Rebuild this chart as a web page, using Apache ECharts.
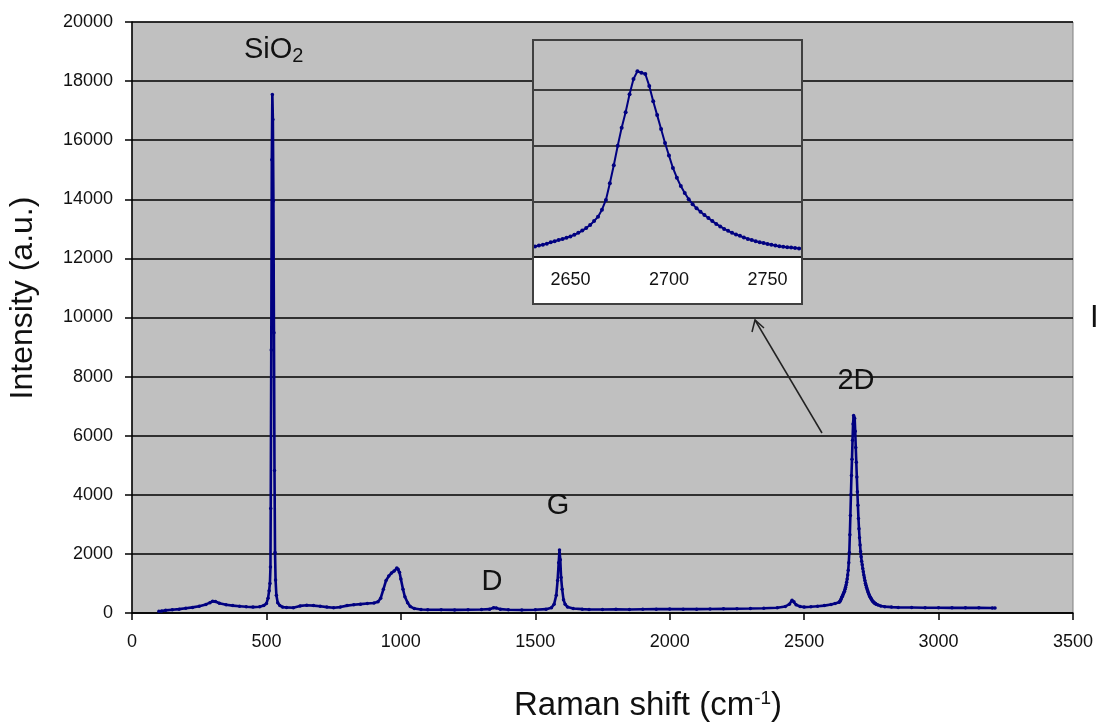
<!DOCTYPE html>
<html>
<head>
<meta charset="utf-8">
<script src="https://cdn.jsdelivr.net/npm/echarts@6/dist/echarts.min.js"></script>
<style>
html,body{margin:0;padding:0;background:#fff;}
#c{width:1099px;height:722px;}
</style>
</head>
<body>
<div id="c"></div>
<script>
// ---- data ----
const ramanShift = [
 100,110,125,150,175,200,225,250,275,290,300,310,325,350,375,400,425,450,475,490,
 500,506,510,513,515,516,518,520,522,524,526,528,530,532,534,537,542,550,560,575,
 600,625,650,675,700,725,750,775,800,825,850,875,900,915,925,935,945,955,965,975,
 985,990,995,1000,1008,1015,1025,1035,1050,1075,1100,1150,1200,1250,1300,1330,1345,1355,1370,1400,
 1450,1500,1540,1560,1570,1578,1583,1587,1590,1593,1596,1600,1605,1611,1620,1641,1675,1700,1750,1800,
 1850,1900,1950,2000,2050,2100,2150,2200,2250,2300,2350,2400,2430,2445,2455,2462,2470,2485,2500,2525,
 2550,2575,2600,2615,
 2630,2632,2634,2636,2638,2640,2642,2644,2646,2648,2650,2652,2654,2656,2658,2660,2662,2664,2666,2668,
 2670,2672,2674,2676,2678,2680,2682,2684,2686,2688,2690,2692,2694,2696,2698,2700,2702,2704,2706,2708,
 2710,2712,2714,2716,2718,2720,2722,2724,2726,2728,2730,2732,2734,2736,2738,2740,2742,2744,2746,2748,
 2750,2752,2754,2756,2758,2760,2762,2764,2766,2768,
 2775,2785,2800,2825,2850,2900,2950,3000,3050,3100,3150,3200,3210
];
const intensity = [
 60,70,90,110,130,160,190,230,290,350,400,390,330,280,250,230,210,200,210,250,
 320,500,750,1000,1560,3540,8900,15340,17550,16700,13940,9480,4820,2050,1120,600,350,250,200,190,
 180,240,260,250,230,200,180,200,250,280,300,320,340,380,500,800,1100,1250,1350,1420,
 1520,1480,1380,1150,800,550,350,220,150,120,110,110,105,110,120,130,180,170,130,110,
 100,110,130,180,300,600,1100,1700,2130,1800,1200,800,450,300,200,150,130,120,120,125,
 120,125,130,135,130,130,135,140,145,150,160,180,220,300,430,380,280,220,200,210,
 230,250,290,320,
 360,380,410,440,480,530,570,610,650,690,740,800,870,950,1040,1150,1290,1450,1700,2050,
 2650,3300,4000,4650,5200,5850,6400,6680,6620,6580,6150,5600,5100,4600,4100,3650,3200,2850,2550,2300,
 2080,1900,1750,1630,1510,1400,1290,1190,1100,1010,940,870,810,760,700,650,610,570,530,500,
 470,440,410,390,370,350,340,320,310,300,
 270,240,215,200,190,185,180,180,175,175,175,170,170
];
const yTicks = [0, 20000, 2000];          // min, max, step of the main y axis
const xTicks = [0, 3500, 500];            // min, max, step of the main x axis
const insetXLabels = [2650, 2700, 2750];
const insetRange = [2631, 2767];
const insetYRange = [0, 7800, 2000];
const peakLabels = ['SiO', 'D', 'G', '2D'];
const xTitle = 'Raman shift (cm';
const yTitle = 'Intensity (a.u.)';

const seriesData = ramanShift.map((x, i) => [x, intensity[i]]);

const FONT = "'Liberation Sans', Arial, sans-serif";
const NAVY = '#000080';
const plain = v => String(v);

const chart = echarts.init(document.getElementById('c'), null, {renderer: 'canvas'});

const option = {
  animation: false,
  backgroundColor: '#ffffff',
  textStyle: {fontFamily: FONT},
  grid: [
    {left: 132, right: 26, top: 22, bottom: 109, show: true, containLabel: false, outerBoundsMode: 'none',
     backgroundColor: '#c0c0c0', borderColor: '#808080', borderWidth: 1, z: 0},
    {left: 533, top: 40, width: 268, height: 217, show: true, containLabel: false, outerBoundsMode: 'none',
     backgroundColor: '#c0c0c0', borderWidth: 0, z: 51}
  ],
  xAxis: [
    {gridIndex: 0, type: 'value', min: xTicks[0], max: xTicks[1], interval: xTicks[2],
     axisLine: {show: true, lineStyle: {color: '#000', width: 1.5}},
     axisTick: {show: true, inside: false, length: 7, lineStyle: {color: '#000', width: 1.5}},
     axisLabel: {fontSize: 18, color: '#111', margin: 20, fontFamily: FONT, formatter: plain},
     splitLine: {show: false}},
    {gridIndex: 1, type: 'value', min: insetRange[0], max: insetRange[1],
     axisLine: {show: true, lineStyle: {color: '#111', width: 1.5}},
     axisTick: {show: false},
     axisLabel: {fontSize: 18, color: '#111', margin: 14, fontFamily: FONT, formatter: plain,
       customValues: insetXLabels},
     splitLine: {show: false}, z: 52}
  ],
  yAxis: [
    {gridIndex: 0, type: 'value', min: yTicks[0], max: yTicks[1], interval: yTicks[2],
     axisLine: {show: true, lineStyle: {color: '#000', width: 1.5}},
     axisTick: {show: true, inside: false, length: 7, lineStyle: {color: '#000', width: 1.5}},
     axisLabel: {fontSize: 18, color: '#111', margin: 19, fontFamily: FONT, formatter: plain},
     splitLine: {show: true, lineStyle: {color: '#000', width: 1.5}}},
    {gridIndex: 1, type: 'value', min: insetYRange[0], max: insetYRange[1], interval: insetYRange[2],
     axisLine: {show: false}, axisTick: {show: false}, axisLabel: {show: false},
     splitLine: {show: true, lineStyle: {color: '#111', width: 1.5}}, z: 52}
  ],
  series: [
    {type: 'line', xAxisIndex: 0, yAxisIndex: 0, data: seriesData,
     symbol: 'circle', symbolSize: 3.5, showSymbol: true,
     lineStyle: {color: NAVY, width: 2.6}, itemStyle: {color: NAVY}, z: 2, silent: true},
    {type: 'line', xAxisIndex: 1, yAxisIndex: 1, data: seriesData, clip: true,
     symbol: 'circle', symbolSize: 4, showSymbol: true,
     lineStyle: {color: NAVY, width: 2}, itemStyle: {color: NAVY}, z: 53, silent: true}
  ],
  graphic: [
    // axis titles
    {type: 'text', z: 60, x: 648, y: 706,
     style: {text: '{n|' + xTitle + '}{s|-1}{n|)}', align: 'center', verticalAlign: 'middle',
       rich: {
         n: {fontSize: 33, fill: '#111', fontFamily: FONT},
         s: {fontSize: 19, fill: '#111', fontFamily: FONT, padding: [0, 0, 14, 0]}}}},
    {type: 'text', z: 60, x: 23, y: 298, rotation: Math.PI / 2,
     style: {text: yTitle, fontSize: 32, fill: '#111', fontFamily: FONT, align: 'center', verticalAlign: 'middle'}},
    // inset white frame
    {type: 'rect', z: 50, shape: {x: 533, y: 40, width: 269, height: 264},
     style: {fill: '#ffffff', stroke: null}},
    {type: 'rect', z: 60, shape: {x: 533, y: 40, width: 269, height: 264},
     style: {fill: null, stroke: '#404040', lineWidth: 2}},
    // peak labels
    {type: 'text', z: 60, left: 244, top: 35,
     style: {text: '{n|' + peakLabels[0] + '}{s|2}', rich: {
       n: {fontSize: 29, fill: '#111', fontFamily: FONT},
       s: {fontSize: 20, fill: '#111', fontFamily: FONT, padding: [14, 0, 0, 0]}}}},
    {type: 'text', z: 60, x: 492, y: 582,
     style: {text: peakLabels[1], fontSize: 29, fill: '#111', fontFamily: FONT, align: 'center', verticalAlign: 'middle'}},
    {type: 'text', z: 60, x: 558, y: 506,
     style: {text: peakLabels[2], fontSize: 29, fill: '#111', fontFamily: FONT, align: 'center', verticalAlign: 'middle'}},
    {type: 'text', z: 60, x: 856, y: 381,
     style: {text: peakLabels[3], fontSize: 29, fill: '#111', fontFamily: FONT, align: 'center', verticalAlign: 'middle'}},
    // arrow to inset
    {type: 'line', z: 60, shape: {x1: 822, y1: 433, x2: 755, y2: 320},
     style: {stroke: '#222', lineWidth: 1.5}},
    {type: 'polyline', z: 60, shape: {points: [[752, 332], [755, 320], [764, 328]]},
     style: {stroke: '#222', lineWidth: 1.5, fill: null}},
    // cropped character at right edge
    {type: 'text', z: 60, x: 1090, y: 318,
     style: {text: 'I', fontSize: 31, fill: '#111', fontFamily: FONT, verticalAlign: 'middle'}}
  ]
};
chart.setOption(option);
</script>
</body>
</html>
